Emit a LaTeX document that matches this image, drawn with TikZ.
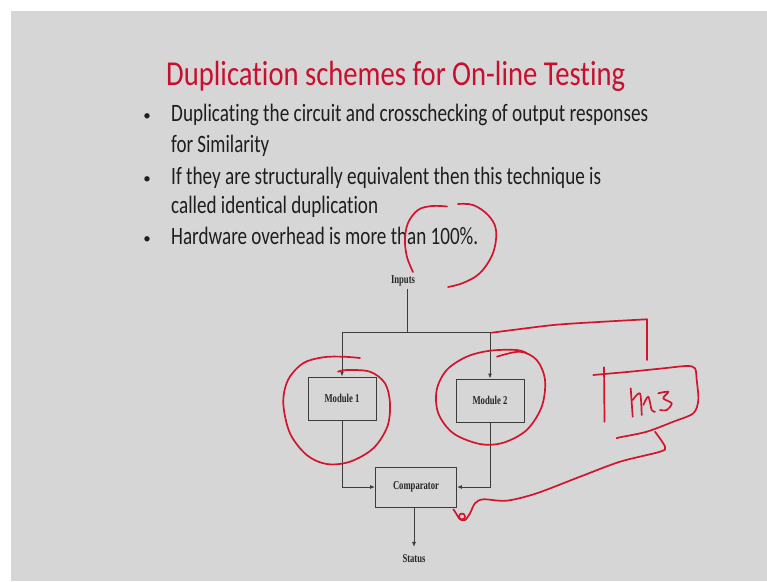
\documentclass[tikz,border=0pt]{standalone}
\usepackage{fontspec}
\setmainfont{Carlito}[Ligatures=NoCommon]
\newfontfamily\diagfont{Liberation Serif}
\usetikzlibrary{arrows.meta}
\definecolor{slidegray}{RGB}{214,214,214}
\definecolor{titlered}{RGB}{200,16,46}
\definecolor{inkred}{RGB}{210,20,45}
\definecolor{bodytext}{RGB}{30,30,30}
\definecolor{diagline}{RGB}{60,60,60}
\newcommand{\dlabel}[2]{\resizebox{#1}{\height}{\diagfont\bfseries\fontsize{12}{14}\selectfont #2}}
\begin{document}
\begin{tikzpicture}[x=1pt,y=-1pt,
  titletext/.style={anchor=base west,inner sep=0pt,text=titlered},
  bodyline/.style={anchor=base west,inner sep=0pt,text=bodytext},
  bulletmark/.style={anchor=base,inner sep=0pt,text=bodytext,font=\fontsize{15}{18}\selectfont},
  blockbox/.style={draw=diagline,line width=0.9pt,minimum width=68pt,minimum height=43pt,inner sep=0pt,text=black!85},
  lbl/.style={inner sep=0pt,text=black!85},
  wire/.style={draw=diagline,line width=0.9pt},
  arr/.style={wire,-{Latex[length=5pt,width=4pt]}},
  ann/.style={draw=inkred,line width=1.7pt,line cap=round,line join=round}
]
\useasboundingbox (0,0) rectangle (767,581);
\fill[white] (0,0) rectangle (767,581);
\fill[slidegray] (10.5,10.5) rectangle (767,581);

% title
\node[titletext] (title) at (166,85) {\resizebox{459pt}{\height}{\fontsize{35}{42}\selectfont Duplication schemes for On-line Testing}};

% bullets
\node[bulletmark] (b1) at (147,120.5) {•};
\node[bodyline] (l1) at (171,121.7) {\resizebox{477pt}{\height}{\fontsize{25}{30}\selectfont Duplicating the circuit and crosschecking of output responses}};
\node[bodyline] (l2) at (171,152) {\resizebox{98pt}{\height}{\fontsize{25}{30}\selectfont for Similarity}};
\node[bulletmark] (b2) at (147,183) {•};
\node[bodyline] (l3) at (171,184) {\resizebox{430pt}{\height}{\fontsize{25}{30}\selectfont If they are structurally equivalent then this technique is}};
\node[bodyline] (l4) at (171,213.5) {\resizebox{207pt}{\height}{\fontsize{25}{30}\selectfont called identical duplication}};
\node[bulletmark] (b3) at (147,243) {•};
\node[bodyline] (l5) at (171,244) {\resizebox{307pt}{\height}{\fontsize{25}{30}\selectfont Hardware overhead is more than 100\%.}};

% diagram
\node[lbl] (inp) at (403,281) {\dlabel{24pt}{Inputs}};
\coordinate (itop) at (407,289);
\coordinate (split) at (407,332);
\node[blockbox] (m1) at (342,398.5) {\dlabel{35pt}{Module 1}};
\node[blockbox] (m2) at (490,400.5) {\dlabel{35pt}{Module 2}};
\node[blockbox,minimum width=81pt,minimum height=40pt] (cmp) at (416,487) {\dlabel{46pt}{Comparator}};
\node[lbl,outer sep=8pt] (st) at (414,559) {\dlabel{23pt}{Status}};

\draw[wire] (itop) -- (split);
\draw[arr] (split) -| (m1.north);
\draw[arr] (split) -| (m2.north);
\draw[arr] (m1.south) |- (cmp.west);
\draw[arr] (m2.south) |- (cmp.east);
\draw[arr] (cmp.south -| st.north) -- (st.north);

% handwritten annotations
\draw[ann] plot[smooth,tension=0.6] coordinates {(413,272) (407,257) (405,240) (408,223) (418,210) (432,206) (447,206.5)};
\draw[ann] plot[smooth,tension=0.6] coordinates {(458,204) (473,205) (488,215) (496,230) (493,253) (480,273) (463,283) (448,287)};

\draw[ann] plot[smooth,tension=0.55] coordinates {(360,358) (343,356.7) (323,357.3) (303,363.3) (288,380) (283.3,403.3) (290,433.3) (306.7,455) (326.7,464) (350,461.7) (373.3,448.3) (387.3,426.7) (390,403.3) (385,383.3) (370,371.7) (347,370) (338,371.7)};

\draw[ann] plot[smooth,tension=0.55] coordinates {(497,356.7) (520,351.7) (536.7,360) (545,380) (541.7,406.7) (526.7,430) (503.3,442.7) (480,444) (453.3,433.3) (438.3,413.3) (436.7,390) (446.7,370) (466.7,356.7) (490,350.7) (516.7,350) (527,353.3)};

\draw[ann] plot[smooth,tension=0.4] coordinates {(491.7,332.7) (553.3,325) (603.3,321.7) (646.7,319.3)};
\draw[ann] (646.7,319.3) -- (646.7,360);

\draw[ann] (604,367.3) -- (604.5,421.7);
\draw[ann] plot[smooth,tension=0.5] coordinates {(593.3,375) (630,371.7) (663.3,368.3) (686.7,366) (695,368.3) (696.7,380) (698.3,400) (693.3,413.3) (673.3,421.7) (646.7,431.7) (620,437.3) (616.7,438.3)};
\draw[ann] plot[smooth,tension=0.5] coordinates {(655,431.7) (665,446.7) (660,451.7) (620,461.7) (580,476.7) (536.7,493.3) (506.7,500.7) (483.3,499.3) (475,503.3) (470,513.3) (465,520) (460,519.3) (455,511.7) (453.3,509.3)};
\draw[ann] (462,516.5) circle (3);

\draw[ann] (630.7,388.3) -- (632.7,416.7);
\draw[ann] plot[smooth,tension=0.5] coordinates {(632.7,400) (640,393.3) (641.7,415)};
\draw[ann] plot[smooth,tension=0.5] coordinates {(643.3,405) (648.3,396.7) (651.7,410) (655,411.7)};
\draw[ann] plot[smooth,tension=0.5] coordinates {(658.3,393.3) (668.3,391.7) (663.3,398.3) (671.7,403.3) (666.7,410) (660,410)};
\end{tikzpicture}
\end{document}
